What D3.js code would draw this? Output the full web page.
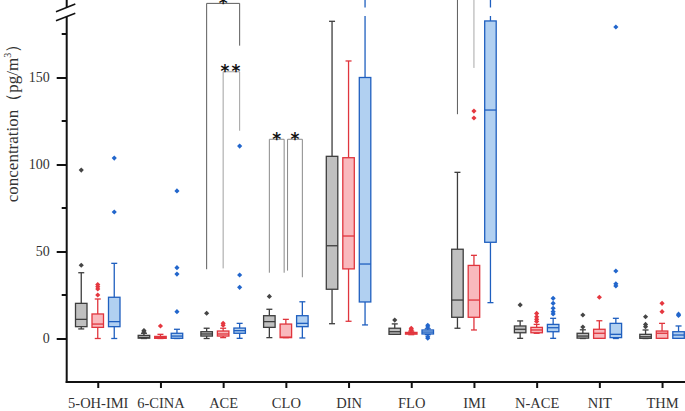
<!DOCTYPE html>
<html>
<head>
<meta charset="utf-8">
<script src="https://cdn.jsdelivr.net/npm/d3@7"></script>
<style>
  html, body { margin: 0; padding: 0; background: #fff; }
  svg { display: block; }
</style>
</head>
<body>
<div id="chart"></div>
<script>
// categories on the x axis
const categories = ["5-OH-IMI", "6-CINA", "ACE", "CLO", "DIN", "FLO", "IMI", "N-ACE", "NIT", "THM"]

// box stats per category: [min, q1, median, q3, max] (pg/m3)
const grayStats = [
  [5.5, 6.8, 11.0, 20.2, 37.8], [0, 0.2, 0.6, 1.8, 3.0], [0, 1.4, 2.6, 3.9, 5.9],
  [0.5, 6.4, 9.7, 13.1, 16.8], [8.5, 28.3, 53.3, 104.7, 182.3], [2.4, 2.4, 3.9, 5.9, 8.4],
  [5.9, 12.2, 22.1, 51.3, 95.5], [0.1, 3.3, 5.3, 7.2, 10.1], [0, 0.2, 1.4, 3.0, 5.0],
  [0, 0.1, 1.0, 2.4, 4.9]
]
const grayOutliers = [[42.1, 96.8], [3.8, 4.6], [14.5], [24.2], [], [10.6], [], [19.3], [6.6, 13.5], [6.8, 8.1, 12.5]]

const redStats = [
  [0, 6.4, 8.3, 14.1, 22.7], [0, 0.1, 0.5, 1.2, 2.4], [0.5, 1.4, 2.6, 4.3, 5.9],
  [0.5, 0.5, 0.8, 8.3, 11.0], [9.9, 40.0, 58.9, 103.9, 159.5], [2.2, 2.5, 3.0, 3.5, 4.2],
  [4.9, 12.2, 22.1, 42.0, 47.8], [3.0, 3.3, 4.9, 6.4, 8.1], [0.1, 0.1, 3.0, 5.3, 10.2],
  [0.1, 0.1, 3.0, 4.3, 8.7]
]
const redOutliers = [[25.0, 28.5, 29.8, 31.0], [7.2], [7.6, 8.7], [], [], [4.8, 5.4, 5.9], [126.7, 130.7], [9.8, 11.0, 12.5, 14.4], [23.7], [15.4, 20.2]]

const blueStats = [
  [0, 6.8, 9.7, 23.7, 43.2], [0, 0.1, 1.4, 3.0, 5.3], [0.1, 3.0, 4.5, 6.0, 8.7],
  [0.3, 6.8, 8.7, 13.1, 21.1], [7.8, 21.0, 42.8, 150.0, 260], [2.2, 2.6, 3.7, 4.9, 5.6],
  [20.6, 55.3, 131.3, 182.5, 280], [0.1, 3.9, 6.2, 8.1, 11.6], [0, 0.5, 2.4, 8.7, 11.6],
  [0.1, 0.1, 2.0, 3.9, 7.2]
]
const blueOutliers = [[72.7, 103.7], [15.4, 37.0, 40.7, 84.8], [29.4, 36.5, 110.6], [], [], [0.2, 1.0, 6.6, 7.6], [], [14.1, 15.4, 17.4, 20.2, 23.1], [30.2, 31.4, 38.8, 179.0], [13.2, 14.0]]

// significance brackets: category, left series, right series, top, left leg end, right leg end, label
const brackets = [
  ["ACE", 0, 2, 192.6, 39.8, 168.3, "*"],
  ["ACE", 1, 2, 153.3, 40.3, 119.4, "**"],
  ["CLO", 0, 1, 114.5, 37.8, 37.8, "*"],
  ["CLO", 1, 2, 114.5, 39.0, 35.2, "*"],
  ["IMI", 0, 2, 240, 128.9, 240, ""],
  ["IMI", 1, 2, 240, 155.5, 240, ""]
]

const yTicks = [0, 50, 100, 150]
const yMinor = [25, 75, 125, 175]

const series = [
  { stats: grayStats, out: grayOutliers, fill: "#c0c0c0", stroke: "#3d3d3d", dot: "#454545" },
  { stats: redStats, out: redOutliers, fill: "#f9b9bd", stroke: "#e0353d", dot: "#e5373f" },
  { stats: blueStats, out: blueOutliers, fill: "#b1d0f1", stroke: "#1f5fbf", dot: "#2266cc" }
]
const bracketColors = ["#5c5c5c", "#a0a0a0", "#8a8a8a", "#8a8a8a", "#5c5c5c", "#a8a8a8"]

const width = 685, height = 411
const axisX = 66.7, axisY = 382
const offset = 16.5, boxW = 11.5, capW = 6
const font = "'Liberation Serif', 'Times New Roman', serif"

const x = d3.scalePoint().domain(categories).range([66.4, 693.4]).padding(0.5)
const y = d3.scaleLinear().domain([-25, 175]).range([axisY, 34])
const sx = (cat, i) => x(cat) + (i - 1) * offset

const svg = d3.select("#chart").append("svg")
  .attr("width", width).attr("height", height)
  .attr("viewBox", [0, 0, width, height])

// boxes
series.forEach((s, i) => {
  const g = svg.append("g")
  categories.forEach((cat, c) => {
    const [mn, q1, md, q3, mx] = s.stats[c]
    const cx = sx(cat, i)
    const b = g.append("g").attr("stroke", s.stroke).attr("stroke-width", 1.3).attr("fill", "none")
    b.append("line").attr("x1", cx).attr("x2", cx).attr("y1", y(q3)).attr("y2", y(mx))
    b.append("line").attr("x1", cx).attr("x2", cx).attr("y1", y(q1)).attr("y2", y(mn))
    b.append("line").attr("x1", cx - capW / 2).attr("x2", cx + capW / 2).attr("y1", y(mx)).attr("y2", y(mx))
    b.append("line").attr("x1", cx - capW / 2).attr("x2", cx + capW / 2).attr("y1", y(mn)).attr("y2", y(mn))
    b.append("rect")
      .attr("x", cx - boxW / 2).attr("width", boxW)
      .attr("y", y(q3)).attr("height", Math.max(y(q1) - y(q3), 1))
      .attr("fill", s.fill)
    b.append("line").attr("x1", cx - boxW / 2).attr("x2", cx + boxW / 2).attr("y1", y(md)).attr("y2", y(md))

    g.selectAll(null).data(s.out[c]).join("path")
      .attr("d", d3.symbol(d3.symbolDiamond2, 17))
      .attr("transform", d => `translate(${cx},${y(d)})`)
      .attr("fill", s.dot)
  })
})

// gap of the axis break across the plot
svg.append("rect")
  .attr("x", axisX + 1).attr("width", width - axisX)
  .attr("y", 7.5).attr("height", 8.5)
  .attr("fill", "#fff")

// significance brackets
const legKey = (cat, i) => cat + "|" + i
const legUse = d3.rollup(brackets.flatMap(b => [legKey(b[0], b[1]), legKey(b[0], b[2])]), v => v.length, d => d)
brackets.forEach((b, k) => {
  const [cat, i, j, top, l1, l2, label] = b
  const lx = sx(cat, i) + (i === 1 && legUse.get(legKey(cat, i)) > 1 && cat === "CLO" ? 1.7 : 0)
  const rx = sx(cat, j) - (j === 1 && legUse.get(legKey(cat, j)) > 1 ? 1.7 : 0)
  svg.append("path")
    .attr("d", `M${lx},${y(l1)}V${y(top)}H${rx}V${y(l2)}`)
    .attr("fill", "none")
    .attr("stroke", bracketColors[k])
    .attr("stroke-width", 1)
  if (label) {
    svg.append("text")
      .attr("x", (lx + rx) / 2).attr("y", y(top) + 5.5)
      .attr("text-anchor", "middle")
      .attr("font-family", "'DejaVu Sans', sans-serif")
      .attr("font-weight", "bold")
      .attr("font-size", 17)
      .attr("letter-spacing", label.length > 1 ? 2 : 0)
      .attr("fill", "#111")
      .text(label)
  }
})

// y axis
const yAxis = svg.append("g")
  .attr("transform", `translate(${axisX},0)`)
  .call(d3.axisLeft(y).tickValues(yTicks).tickSize(10).tickPadding(7))
yAxis.select(".domain").remove()
yAxis.selectAll(".tick line").attr("stroke", "#111").attr("stroke-width", 2)
yAxis.selectAll(".tick text").attr("font-family", font).attr("font-size", 14).attr("fill", "#333")
yAxis.selectAll(".minor").data(yMinor).join("line")
  .attr("class", "minor")
  .attr("x1", -5).attr("x2", 0)
  .attr("y1", d => y(d)).attr("y2", d => y(d))
  .attr("stroke", "#111").attr("stroke-width", 2)

// axis line with break
svg.append("line").attr("x1", axisX).attr("x2", axisX).attr("y1", 0).attr("y2", 7.4)
  .attr("stroke", "#111").attr("stroke-width", 2)
svg.append("line").attr("x1", axisX).attr("x2", axisX).attr("y1", 16.6).attr("y2", axisY + 1)
  .attr("stroke", "#111").attr("stroke-width", 2)
svg.append("line").attr("x1", 56).attr("x2", 75.3).attr("y1", 11.7).attr("y2", 4)
  .attr("stroke", "#111").attr("stroke-width", 1.6)
svg.append("line").attr("x1", 56).attr("x2", 75.3).attr("y1", 20.7).attr("y2", 13.3)
  .attr("stroke", "#111").attr("stroke-width", 1.6)

// x axis
const xAxis = svg.append("g")
  .attr("transform", `translate(0,${axisY})`)
  .call(d3.axisBottom(x).tickSize(6).tickPadding(15))
xAxis.select(".domain").remove()
xAxis.append("line").attr("x1", axisX - 1).attr("x2", width).attr("y1", 0).attr("y2", 0)
  .attr("stroke", "#111").attr("stroke-width", 2)
xAxis.selectAll(".tick line").attr("stroke", "#111").attr("stroke-width", 2)
xAxis.selectAll(".tick text")
  .attr("font-family", font).attr("font-size", 14.5).attr("fill", "#333")
  .attr("dy", "0.71em").attr("y", 15.5)

// y label
svg.append("text")
  .attr("transform", "translate(18,119) rotate(-90)")
  .attr("text-anchor", "middle")
  .attr("font-family", font)
  .attr("font-size", 17)
  .attr("fill", "#333")
  .call(t => {
    t.append("tspan").text("concentration（pg/m")
    t.append("tspan").attr("font-size", 10).attr("dy", -7).text("3")
    t.append("tspan").attr("dy", 7).text("）")
  })
</script>
</body>
</html>
